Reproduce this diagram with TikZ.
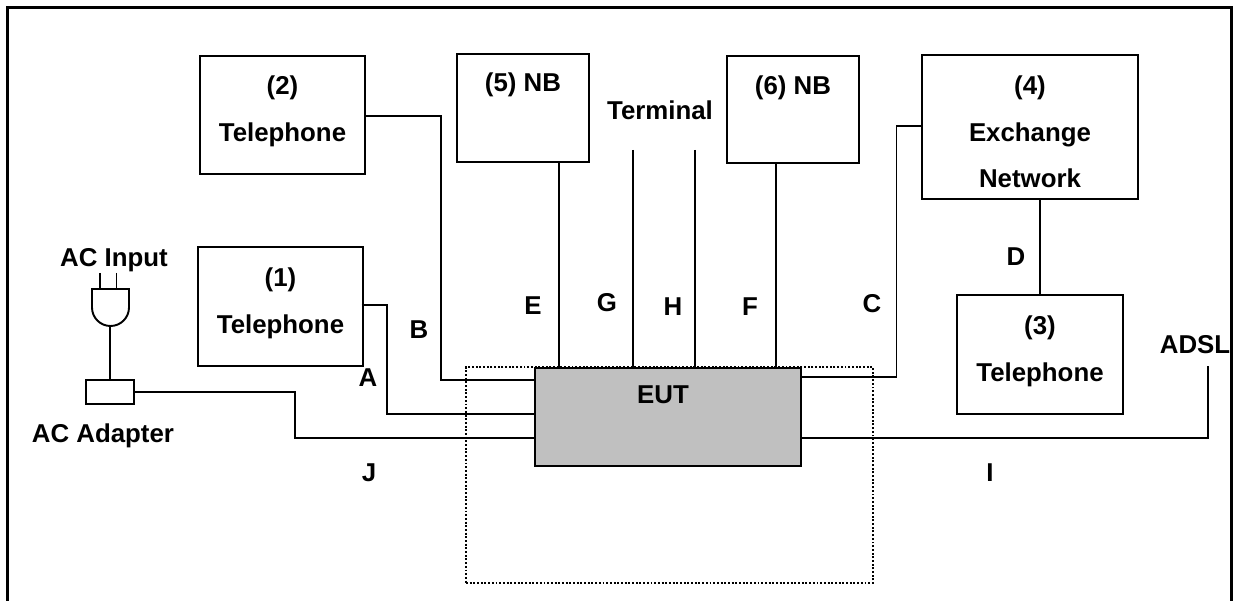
\documentclass[tikz,border=0pt]{standalone}
\usepackage{fontspec}
\setmainfont{Liberation Sans}
\usepackage{tikz}
\usetikzlibrary{positioning}
\definecolor{eutGray}{RGB}{192,192,192}

\begin{document}
\begin{tikzpicture}[
	x=0.02cm,y=-0.02cm,
	box/.style={
		draw=black,
		line width=1.1pt,
		inner sep=0pt
	},
	lbl/.style={
		inner sep=0pt,
		align=center,
		font=\bfseries\fontsize{14.7}{26.7}\selectfont
	},
	wire/.style={line width=1.1pt,draw=black}
	]
	\useasboundingbox (0,0) rectangle (1235,601);
	% outer frame, open at the bottom
	\draw[line width=1.7pt] (7.5,601)--(7.5,7.5)--(1231.5,7.5)--(1231.5,601);
	% test table
	\node[draw=black,line width=1.1pt,densely dotted,minimum width=8.14cm,minimum height=4.32cm,inner sep=0pt](table) at (669.5,475){};
	% devices
	\node[box,minimum width=3.3cm,minimum height=2.36cm](tel2) at (282.5,115){};
	\node[lbl,below=0.40cm of tel2.north]{(2)\\Telephone};
	\node[box,minimum width=3.3cm,minimum height=2.38cm](tel1) at (280.5,306.5){};
	\node[lbl,below=0.42cm of tel1.north]{(1)\\Telephone};
	\node[box,minimum width=3.32cm,minimum height=2.38cm](tel3) at (1040,354.5){};
	\node[lbl,below=0.42cm of tel3.north]{(3)\\Telephone};
	\node[box,minimum width=2.64cm,minimum height=2.15cm](nb5) at (523,108){};
	\node[lbl,below=0.39cm of nb5.north]{(5) NB};
	\node[box,minimum width=2.64cm,minimum height=2.14cm](nb6) at (793,109.5){};
	\node[lbl,below=0.40cm of nb6.north]{(6) NB};
	\node[box,minimum width=4.32cm,minimum height=2.88cm](net) at (1030,127){};
	\node[lbl,below=0.42cm of net.north]{(4)\\Exchange\\Network};
	\node[box,fill=eutGray,minimum width=5.32cm,minimum height=1.96cm](eut) at (668,417){};
	\node[lbl] at (663,395){EUT};
	\node[box,minimum width=0.96cm,minimum height=0.48cm](adapter) at (110,392){};
	% labels
	\node[lbl](acin) at (114,260){AC Input};
	\node[lbl](acad) at (103,436){AC Adapter};
	\node[lbl](term) at (660,110){Terminal};
	\node[lbl](adsl) at (1195,345){ADSL};
	\node[lbl](la) at (368,378){A};
	\node[lbl](lb) at (419,330){B};
	\node[lbl](lc) at (872,304){C};
	\node[lbl](ld) at (1016,257){D};
	\node[lbl](le) at (533,306){E};
	\node[lbl](lf) at (750,307){F};
	\node[lbl](lg) at (607,303){G};
	\node[lbl](lh) at (673,307){H};
	\node[lbl](li) at (990,473){I};
	\node[lbl](lj) at (369,473){J};
	% plug
	\coordinate (plugL) at (92,289);
	\coordinate (plugR) at (129,289);
	\coordinate (plugB) at (110,326);
	\draw[wire] (plugL)--(plugR)--(129,307.5) arc[start angle=0,end angle=180,radius=18.5]--cycle;
	\draw[wire] (100,273)--(100,289);
	\draw[wire] (116.5,273)--(116.5,289);
	\draw[wire] (plugB)--(adapter.north);
	% ports on the EUT
	\coordinate (eutB) at (535,380);
	\coordinate (eutA) at (535,414);
	\coordinate (eutJ) at (535,438);
	\coordinate (eutE) at (559,368);
	\coordinate (eutG) at (633,368);
	\coordinate (eutH) at (695,368);
	\coordinate (eutF) at (776,368);
	\coordinate (eutC) at (801,377);
	\coordinate (eutI) at (801,438);
	% free ends
	\coordinate (termG) at (633,150);
	\coordinate (termH) at (695,150);
	\coordinate (adslEnd) at (1208,366);
	\coordinate (tel1P) at (361.5,305);
	\coordinate (tel2P) at (365,116);
	\coordinate (netP) at (922,126);
	% cables
	\draw[wire](tel2P)--(441,116)|-(eutB);
	\draw[wire](tel1P)--(387,305)|-(eutA);
	\draw[wire](adapter.east)--(295,392)|-(eutJ);
	\draw[wire](nb5.south -| eutE)--(eutE);
	\draw[wire](termG)--(eutG);
	\draw[wire](termH)--(eutH);
	\draw[wire](nb6.south -| eutF)--(eutF);
	\draw[wire](eutC)--(896.5,377)|-(netP);
	\draw[wire](net.south -| tel3.north)--(tel3.north);
	\draw[wire](eutI)--(1208,438)--(adslEnd);
\end{tikzpicture}
\end{document}
